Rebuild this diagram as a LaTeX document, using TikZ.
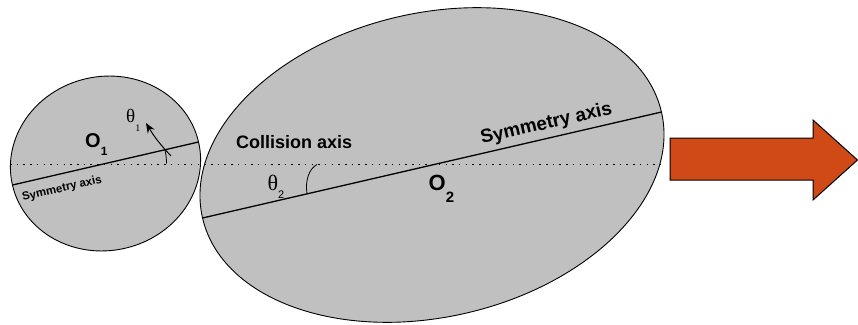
\documentclass[tikz,border=0pt]{standalone}
\usepackage{fontspec}
\setmainfont{Liberation Sans}
\newfontfamily\greekfont{Liberation Serif}
\usetikzlibrary{arrows.meta}
\definecolor{bodygray}{RGB}{192,192,192}
\definecolor{pushred}{RGB}{208,74,24}

\begin{document}
\begin{tikzpicture}[x=1pt, y=-1pt,
    body/.style={fill=bodygray, draw=black, line width=0.9pt},
    symaxis/.style={line width=1.3pt},
    angmark/.style={line width=0.8pt},
    lbl/.style={inner sep=0pt, anchor=base west}]
    \useasboundingbox (0,0) rectangle (858,324);

    % centres and axis end points
    \coordinate (O1) at (105.5,163.5);
    \coordinate (O2) at (432,165);
    \coordinate (s1L) at (12.5,185);
    \coordinate (s1R) at (198.5,142);
    \coordinate (s2L) at (202.5,218);
    \coordinate (s2R) at (661.5,112);
    \coordinate (colL) at (10,164.5);
    \coordinate (colR) at (660,164.5);

    % bodies
    \filldraw[body, rotate around={13:(O1)}] (O1) ellipse [x radius=95.5, y radius=87];
    \filldraw[body, rotate around={13:(O2)}] (O2) ellipse [x radius=235.5, y radius=152];

    % collision axis (dotted) and symmetry axes
    \draw[line width=1pt, dash pattern=on 1.5pt off 5.2pt] (colL) -- (colR);
    \draw[symaxis] (s1L) -- (s1R);
    \draw[symaxis] (s2L) -- (s2R);

    % angle marks
    \draw[angmark] (166.5,163.5) arc[start angle=0, end angle=-13, radius=61];
    \draw[angmark] (307,193.8) .. controls (305,180) and (309,169) .. (317,164.5);
    \coordinate (t1tail) at (171,156);
    \coordinate (t1tip) at (146,123);
    \draw[line width=1pt, -{Stealth[length=10pt, width=8pt]}] (t1tail) to[bend left=6] (t1tip);

    % labels
    \node[lbl, font=\bfseries\fontsize{20}{20}\selectfont] (o1lbl) at (85,147)
        {O\raisebox{-8pt}{\fontsize{12}{12}\selectfont 1}};
    \node[lbl, font=\bfseries\fontsize{22}{22}\selectfont] (o2lbl) at (428.5,190)
        {O\raisebox{-12pt}{\fontsize{15}{15}\selectfont 2}};
    \node[lbl, font=\greekfont\fontsize{19}{19}\selectfont] (th1) at (126,122)
        {θ\raisebox{-9pt}{\fontsize{10}{10}\selectfont 1}};
    \node[lbl, font=\greekfont\fontsize{22}{22}\selectfont] (th2) at (267.5,190)
        {θ\raisebox{-8pt}{\fontsize{11}{11}\selectfont\rmfamily 2}};
    \node[lbl, font=\bfseries\fontsize{18}{18}\selectfont] (collbl) at (236,148) {Collision axis};
    \node[lbl, rotate=13, font=\bfseries\fontsize{11.5}{11.5}\selectfont] (sym1lbl) at (23,201) {Symmetry axis};
    \node[lbl, rotate=13, font=\bfseries\fontsize{19}{19}\selectfont] (sym2lbl) at (482,144) {Symmetry axis};

    % direction of motion
    \filldraw[fill=pushred, draw=black, line width=1pt]
        (670,138) -- (813,138) -- (813,120) -- (857.5,160) -- (813,200) -- (813,180) -- (670,180) -- cycle;
\end{tikzpicture}
\end{document}
